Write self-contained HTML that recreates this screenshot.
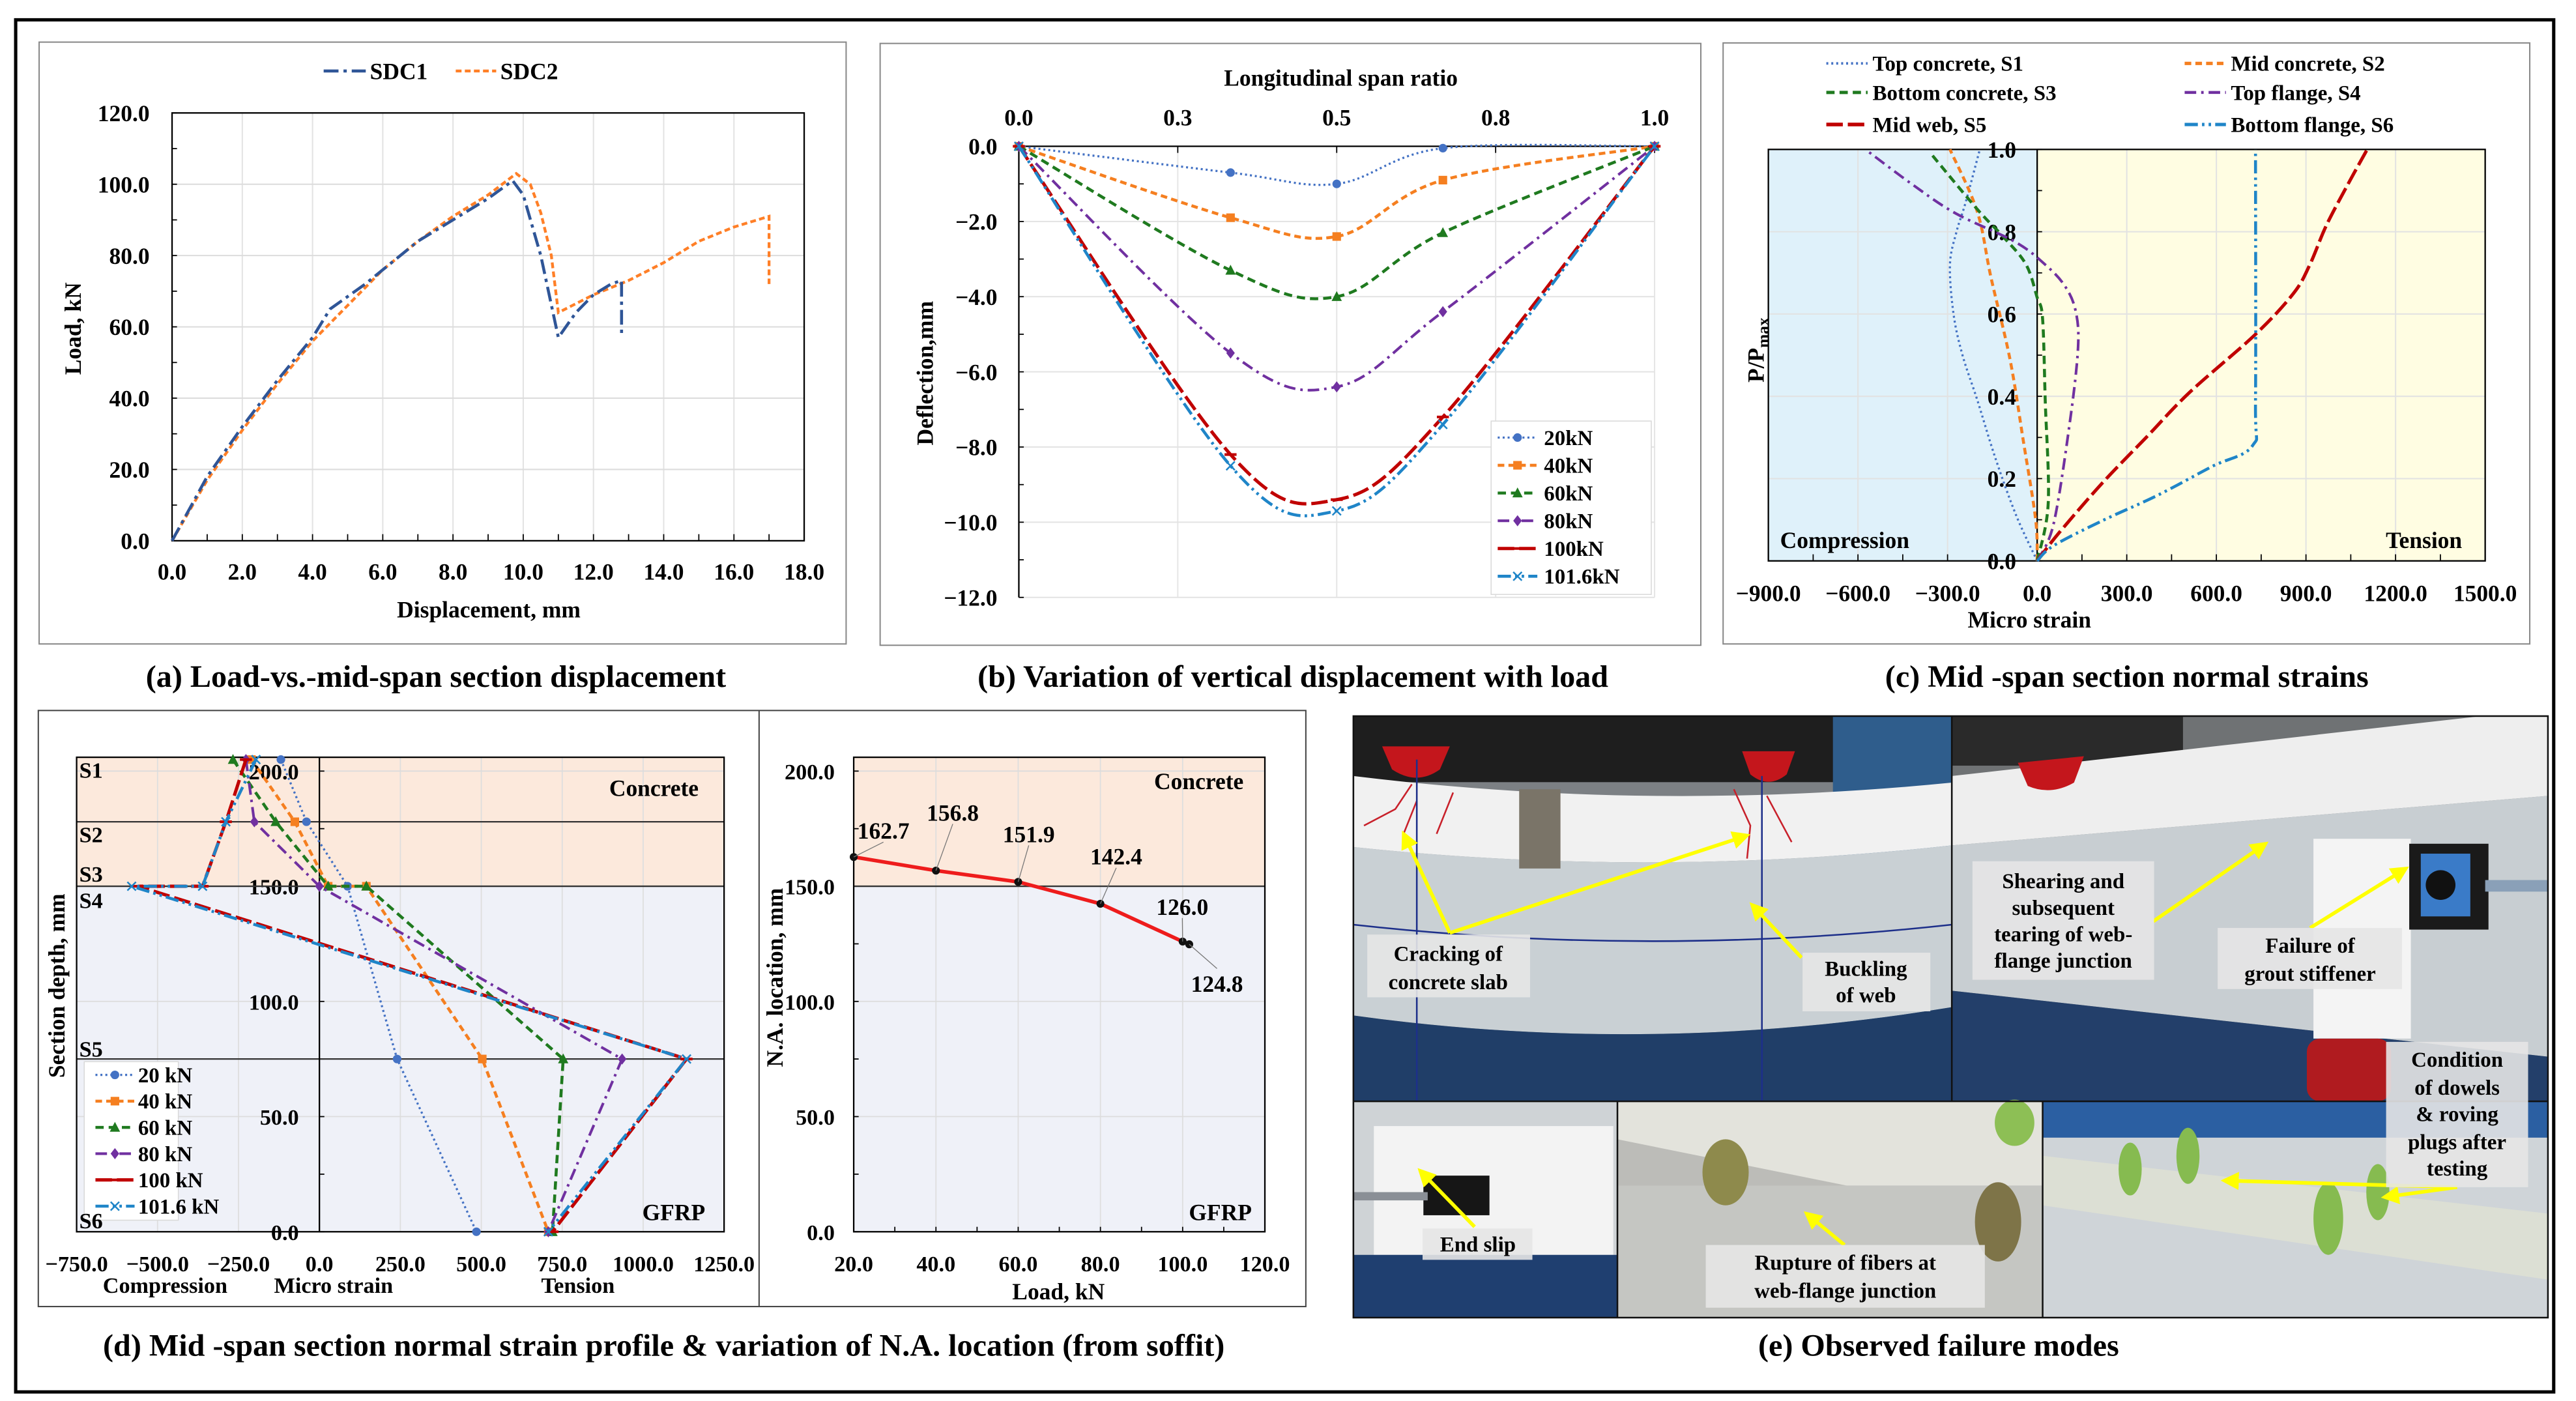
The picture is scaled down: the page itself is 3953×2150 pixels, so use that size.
<!DOCTYPE html>
<html><head><meta charset="utf-8">
<style>
html,body{margin:0;padding:0;background:#fff;}
svg{display:block;}
text{font-family:"Liberation Serif",serif;font-weight:bold;fill:#000;}
</style></head>
<body>
<svg id="fig" xmlns="http://www.w3.org/2000/svg" viewBox="0 0 1560 848.5" width="3953" height="2150" preserveAspectRatio="none">
<defs>
<marker id="arr" viewBox="0 0 10 10" refX="8" refY="5" markerWidth="5" markerHeight="5" orient="auto"><path d="M0,0 L10,5 L0,10 z" fill="#ffff00"/></marker>
</defs>
<rect x="0" y="0" width="1560" height="848.5" fill="#fff"/>
<rect x="9.5" y="12" width="1537" height="831" fill="none" stroke="#000" stroke-width="2"/>
<rect x="23.7" y="25.5" width="488.7" height="364.5" fill="#fff" stroke="#888" stroke-width="0.8"/>
<rect x="533" y="26.3" width="497" height="364.5" fill="#fff" stroke="#888" stroke-width="0.8"/>
<rect x="1043.5" y="26" width="488.5" height="364" fill="#fff" stroke="#888" stroke-width="0.8"/>
<rect x="23.2" y="430.3" width="767.6" height="361" fill="#fff" stroke="#444" stroke-width="0.8"/>
<line x1="459.7" y1="430.3" x2="459.7" y2="791.3" stroke="#444" stroke-width="0.8"/>
<g id="ga"></g>
<g id="gb"></g>
<g id="gc"></g>
<g id="gd"></g>
<g id="gd2"></g>
<g id="ge">
  <!-- top-left photo -->
  <rect x="819.6" y="433.7" width="362.4" height="233.3" fill="#7c8084"/>
  <rect x="819.6" y="433.7" width="362.4" height="40" fill="#1e1e1e"/>
  <rect x="1110" y="433.7" width="72" height="233" fill="#2f5d8c"/>
  <path d="M837,452 L878,452 L872,466 Q858,476 843,466 Z" fill="#c4161c"/>
  <path d="M1055,455 L1087,455 L1082,469 Q1071,478 1060,469 Z" fill="#c4161c"/>
  <path d="M819.6,470 Q1000,492 1182,474 L1182,512 Q1000,532 819.6,513 Z" fill="#f1f1f1"/>
  <path d="M819.6,513 Q1000,532 1182,512 L1182,610 Q1000,640 819.6,615 Z" fill="#c9d0d4"/>
  <path d="M819.6,615 Q1000,640 1182,610 L1182,667 L819.6,667 Z" fill="#203e68"/>
  <rect x="920" y="478" width="25" height="48" fill="#7a7468"/>
  <path d="M826,500 L845,490 L855,475 M850,505 L858,485 M880,480 L870,505 M1050,478 L1060,500 L1058,520 M1070,482 L1085,510" stroke="#c8202a" stroke-width="1" fill="none"/>
  <path d="M819.6,560 Q1000,580 1182,560 M858,460 L858,667 M1067,470 L1067,667" stroke="#1d2f8a" stroke-width="1" fill="none"/>
  <!-- top-right photo -->
  <rect x="1182" y="433.7" width="361" height="233.3" fill="#6f7274"/>
  <rect x="1182" y="433.7" width="140" height="30" fill="#2a2a2a"/>
  <polygon points="1182,470 1500,434 1543,434 1543,482 1182,512" fill="#eeeeee"/>
  <polygon points="1182,512 1543,482 1543,640 1182,600" fill="#c8ced2"/>
  <polygon points="1182,600 1543,640 1543,667 1182,667" fill="#233f6a"/>
  <path d="M1222,462 L1262,458 L1256,474 Q1242,482 1228,476 Z" fill="#c4161c"/>
  <rect x="1401" y="508" width="59" height="121" fill="#f4f4f4"/>
  <rect x="1459" y="511" width="48" height="52" fill="#1a1a1a"/>
  <rect x="1466" y="517" width="30" height="38" fill="#3a7bc8"/>
  <circle cx="1478" cy="536" r="9" fill="#111"/>
  <rect x="1505" y="533" width="38" height="7" fill="#8aa0b8"/>
  <rect x="1397" y="629" width="51" height="38" rx="8" fill="#b01b1f"/>
  <!-- bottom-left photo -->
  <rect x="819.6" y="667" width="159.9" height="131" fill="#cfd3d6"/>
  <rect x="832" y="682" width="145" height="78" fill="#f3f3f3"/>
  <rect x="819.6" y="760" width="159.9" height="38" fill="#1f3f70"/>
  <rect x="862" y="712" width="40" height="24" fill="#161616"/>
  <rect x="819.6" y="722" width="45" height="5" fill="#8a8f96"/>
  <!-- bottom-mid photo -->
  <rect x="979.5" y="667" width="257.5" height="131" fill="#bcbcb8"/>
  <polygon points="979.5,667 1237,667 1237,742 979.5,690" fill="#e3e3dc"/>
  <rect x="979.5" y="718" width="257.5" height="80" fill="#c5c6c2"/>
  <ellipse cx="1045" cy="710" rx="14" ry="20" fill="#8e8a4c"/>
  <ellipse cx="1210" cy="740" rx="14" ry="24" fill="#7e7448"/>
  <ellipse cx="1220" cy="680" rx="12" ry="14" fill="#8dbf55"/>
  <!-- bottom-right photo -->
  <rect x="1237" y="667" width="306" height="131" fill="#cfd4d8"/>
  <rect x="1237" y="667" width="306" height="22" fill="#2b5fa2"/>
  <polygon points="1237,700 1543,735 1543,775 1237,730" fill="#dcdfd4"/>
  <ellipse cx="1290" cy="708" rx="7" ry="16" fill="#86bb50"/>
  <ellipse cx="1325" cy="700" rx="7" ry="17" fill="#86bb50"/>
  <ellipse cx="1410" cy="738" rx="9" ry="22" fill="#86bb50"/>
  <ellipse cx="1440" cy="722" rx="7" ry="17" fill="#86bb50"/>
  <!-- dividers -->
  <path d="M1182,433.7 V667 M819.6,667 H1543 M979.5,667 V798 M1237,667 V798" stroke="#111" stroke-width="1" fill="none"/>
  <rect x="819.6" y="433.7" width="723.4" height="364.3" fill="none" stroke="#111" stroke-width="1"/>
  <!-- arrows -->
  <g stroke="#ffff00" stroke-width="2.2" fill="none">
    <line x1="878" y1="565" x2="850" y2="505" marker-end="url(#arr)"/>
    <line x1="878" y1="565" x2="1058" y2="506" marker-end="url(#arr)"/>
    <line x1="1091" y1="580" x2="1061" y2="548" marker-end="url(#arr)"/>
    <line x1="1304" y1="558" x2="1372" y2="511" marker-end="url(#arr)"/>
    <line x1="1399" y1="562" x2="1457" y2="526" marker-end="url(#arr)"/>
    <line x1="893" y1="743" x2="860" y2="709" marker-end="url(#arr)"/>
    <line x1="1117" y1="754" x2="1094" y2="735" marker-end="url(#arr)"/>
    <line x1="1488" y1="719" x2="1347" y2="715" marker-end="url(#arr)"/>
    <line x1="1488" y1="719" x2="1444" y2="725" marker-end="url(#arr)"/>
  </g>
  <!-- label boxes -->
  <rect x="828" y="566" width="98.6" height="38" fill="#e6e6e6" fill-opacity="0.9"/>
  <text x="877" y="582" font-size="13" text-anchor="middle">Cracking of</text>
  <text x="877" y="599" font-size="13" text-anchor="middle">concrete slab</text>
  <rect x="1091.6" y="577" width="77.4" height="35.5" fill="#e6e6e6" fill-opacity="0.9"/>
  <text x="1130" y="591" font-size="13" text-anchor="middle">Buckling</text>
  <text x="1130" y="607" font-size="13" text-anchor="middle">of web</text>
  <rect x="1194.5" y="521.6" width="110" height="71.8" fill="#e6e6e6" fill-opacity="0.9"/>
  <text x="1249.5" y="538" font-size="13" text-anchor="middle">Shearing and</text>
  <text x="1249.5" y="554" font-size="13" text-anchor="middle">subsequent</text>
  <text x="1249.5" y="570" font-size="13" text-anchor="middle">tearing of web-</text>
  <text x="1249.5" y="586" font-size="13" text-anchor="middle">flange junction</text>
  <rect x="1343" y="562" width="111.6" height="37" fill="#e6e6e6" fill-opacity="0.9"/>
  <text x="1399" y="577" font-size="13" text-anchor="middle">Failure of</text>
  <text x="1399" y="594" font-size="13" text-anchor="middle">grout stiffener</text>
  <rect x="1445" y="631" width="86" height="88" fill="#e6e6e6" fill-opacity="0.9"/>
  <text x="1488" y="646" font-size="13" text-anchor="middle">Condition</text>
  <text x="1488" y="663" font-size="13" text-anchor="middle">of dowels</text>
  <text x="1488" y="679" font-size="13" text-anchor="middle">&amp; roving</text>
  <text x="1488" y="696" font-size="13" text-anchor="middle">plugs after</text>
  <text x="1488" y="712" font-size="13" text-anchor="middle">testing</text>
  <rect x="861.5" y="744" width="66.5" height="19" fill="#e6e6e6" fill-opacity="0.9"/>
  <text x="895" y="758" font-size="13" text-anchor="middle">End slip</text>
  <rect x="1033" y="754" width="169" height="38" fill="#e6e6e6" fill-opacity="0.9"/>
  <text x="1117.5" y="769" font-size="13" text-anchor="middle">Rupture of fibers at</text>
  <text x="1117.5" y="786" font-size="13" text-anchor="middle">web-flange junction</text>
</g>
<text x="264" y="416" font-size="19" text-anchor="middle">(a) Load-vs.-mid-span section displacement</text>
<text x="783" y="416" font-size="19" text-anchor="middle">(b) Variation of vertical displacement with load</text>
<text x="1288" y="416" font-size="19" text-anchor="middle">(c) Mid -span section normal strains</text>
<text x="402" y="821" font-size="19" text-anchor="middle">(d) Mid -span section normal strain profile &amp; variation of N.A. location (from soffit)</text>
<text x="1174" y="821" font-size="19" text-anchor="middle">(e) Observed failure modes</text>
</svg>
<script>
// ---------- data ----------
const aDispSDC1=[0,1,2,3,4,4.5,5.5,6,7,8,9,9.7,10,10.5,11,11.5,12,12.5,12.8,12.8];
const aLoadSDC1=[0,18,32,45,57,65,72,76,84,90,96,101,97,80,57,64,69,72,73,58];
const aDispSDC2=[0,1,2,3,4,5,6,7,8,9,9.8,10.2,10.5,10.8,11,12,13,14,15,16,17,17];
const aLoadSDC2=[0,17,31,44,56,66,76,84,91,97,103,100,92,80,64,69,73,78,84,88,91,72];
const aXTicks=[0,2,4,6,8,10,12,14,16,18];
const aYTicks=[0,20,40,60,80,100,120];

const bRatio=[0,0.333,0.5,0.667,1];
const bLoads=['20kN','40kN','60kN','80kN','100kN','101.6kN'];
const bDefl20=[0,-0.7,-1.0,-0.05,0];
const bDefl40=[0,-1.9,-2.4,-0.9,0];
const bDefl60=[0,-3.3,-4.0,-2.3,0];
const bDefl80=[0,-5.5,-6.4,-4.4,0];
const bDefl100=[0,-8.2,-9.4,-7.2,0];
const bDefl1016=[0,-8.5,-9.7,-7.4,0];
const bXTicks=[0,0.25,0.5,0.75,1];
const bXTickLabels=['0.0','0.3','0.5','0.8','1.0'];
const bYTicks=[0,-2,-4,-6,-8,-10,-12];

const cS1Strain=[0,-70,-140,-200,-250,-280,-292,-270,-240,-192];
const cS1P=[0,0.11,0.25,0.39,0.5,0.6,0.72,0.8,0.87,1.0];
const cS2Strain=[0,-5,-46,-91,-155,-201,-292];
const cS2P=[0,0.1,0.29,0.49,0.69,0.85,1.0];
const cS3Strain=[0,37,27,18,0,-37,-110,-201,-356];
const cS3P=[0,0.14,0.39,0.59,0.64,0.72,0.785,0.855,0.99];
const cS4Strain=[0,55,110,137,128,91,27,-73,-274,-420,-575];
const cS4P=[0,0.09,0.34,0.52,0.61,0.67,0.72,0.775,0.845,0.916,1.0];
const cS5Strain=[0,73,219,365,511,730,858,913,968,1041,1105];
const cS5P=[0,0.068,0.19,0.3,0.41,0.55,0.65,0.72,0.815,0.916,1.0];
const cS6Strain=[0,55,219,402,584,721,731,731];
const cS6P=[0,0.037,0.098,0.159,0.229,0.28,0.39,1.0];
const cXTicks=[-900,-600,-300,0,300,600,900,1200,1500];
const cYTicks=[0,0.2,0.4,0.6,0.8,1.0];

const dDepth=[205,178,150,150,75,0];
const dStrain20=[-119,-40,87,87,240,485];
const dStrain40=[-210,-76,27,145,503,707];
const dStrain60=[-267,-135,27,145,753,720];
const dStrain80=[-227,-201,0,0,935,707];
const dStrain100=[-227,-289,-361,-560,1134,720];
const dStrain1016=[-196,-289,-361,-580,1134,707];
const dLoadNames=['20 kN','40 kN','60 kN','80 kN','100 kN','101.6 kN'];
const dXTicks=[-750,-500,-250,0,250,500,750,1000,1250];
const dYTicks=[0,50,100,150,200];
const naLoad=[20,40,60,80,100,101.6];
const naLoc=[162.7,156.8,151.9,142.4,126.0,124.8];
const naXTicks=[20,40,60,80,100,120];

// ---------- helpers ----------
const NS='http://www.w3.org/2000/svg';
function mk(tag,attrs,name,parent){
  const e=document.createElementNS(NS,tag);
  for(const k in attrs) e.setAttribute(k,attrs[k]);
  
  
  parent.appendChild(e);
  return e;
}
function txt(parent,x,y,s,size,name,anchor,extra){
  const a={x:x,y:y,'font-size':size,'text-anchor':anchor||'middle'};
  if(extra) for(const k in extra) a[k]=extra[k];
  const e=mk('text',a,name,parent);
  e.textContent=s;
  return e;
}
function lin(d0,d1,r0,r1){return v=>r0+(v-d0)/(d1-d0)*(r1-r0);}
function fmt(v,n){const s=v.toFixed(n);return v<0?'\u2212'+s.slice(1):s;}
function polyD(xs,ys){return xs.map((x,i)=>(i?'L':'M')+x.toFixed(2)+','+ys[i].toFixed(2)).join('');}
function smoothD(xs,ys){
  let d='M'+xs[0]+','+ys[0];
  const n=xs.length;
  for(let i=0;i<n-1;i++){
    const x0=xs[Math.max(i-1,0)],y0=ys[Math.max(i-1,0)];
    const x1=xs[i],y1=ys[i],x2=xs[i+1],y2=ys[i+1];
    const x3=xs[Math.min(i+2,n-1)],y3=ys[Math.min(i+2,n-1)];
    d+='C'+(x1+(x2-x0)/6).toFixed(2)+','+(y1+(y2-y0)/6).toFixed(2)+' '+(x2-(x3-x1)/6).toFixed(2)+','+(y2-(y3-y1)/6).toFixed(2)+' '+x2.toFixed(2)+','+y2.toFixed(2);
  }
  return d;
}
function marker(parent,type,x,y,color,name,s){
  s=s||2.6;
  if(type==='circle') mk('circle',{cx:x,cy:y,r:s,fill:color},name,parent);
  else if(type==='square') mk('rect',{x:x-s,y:y-s,width:2*s,height:2*s,fill:color},name,parent);
  else if(type==='triangle') mk('polygon',{points:`${x},${y-s*1.3} ${x-s*1.2},${y+s} ${x+s*1.2},${y+s}`,fill:color},name,parent);
  else if(type==='diamond') mk('polygon',{points:`${x},${y-s*1.3} ${x-s},${y} ${x},${y+s*1.3} ${x+s},${y}`,fill:color},name,parent);
  else if(type==='dash') mk('line',{x1:x-s*1.4,y1:y,x2:x+s*1.4,y2:y,stroke:color,'stroke-width':1.6},name,parent);
  else if(type==='x') mk('path',{d:`M${x-s},${y-s}L${x+s},${y+s}M${x-s},${y+s}L${x+s},${y-s}`,stroke:color,'stroke-width':1},name,parent);
}
const C={blue:'#4472c4',orange:'#f57f20',green:'#1f7a1f',purple:'#7030a0',red:'#c00000',lblue:'#1f85c8'};
const dStyles=[
 {c:C.blue,dash:'1.2 1.8',m:'circle',w:1.3},
 {c:C.orange,dash:'4 2.5',m:'square',w:1.8},
 {c:C.green,dash:'5 3',m:'triangle',w:1.8},
 {c:C.purple,dash:'7 3 1.5 3',m:'diamond',w:1.6},
 {c:C.red,dash:'10 3',m:'dash',w:2},
 {c:C.lblue,dash:'8 2.5 1.5 2.5 1.5 2.5',m:'x',w:1.8}
];

// ---------- chart a ----------
(function(){
  const g=document.getElementById('ga');
  const X=lin(0,18,104.2,487), Y=lin(0,120,327.5,68.4);
  aXTicks.forEach(v=>{
    mk('line',{x1:X(v),y1:Y(0),x2:X(v),y2:Y(120),stroke:'#e3e3e3','stroke-width':0.8},'a-x-grid',g);
    txt(g,X(v),351,fmt(v,1),14,'a-x-tick-label');
  });
  aYTicks.forEach(v=>{
    mk('line',{x1:X(0),y1:Y(v),x2:X(18),y2:Y(v),stroke:'#dcdcdc','stroke-width':0.8},'a-y-grid',g);
    txt(g,90.6,Y(v)+5,fmt(v,1),14,'a-y-tick-label','end');
  });
  for(let v=0;v<=18;v+=1) mk('line',{x1:X(v),y1:Y(0),x2:X(v),y2:Y(0)-4,stroke:'#000','stroke-width':0.7},'a-x-tick',g);
  for(let v=0;v<=120;v+=10) mk('line',{x1:X(0),y1:Y(v),x2:X(0)+3,y2:Y(v),stroke:'#000','stroke-width':0.7},'a-y-tick',g);
  mk('rect',{x:X(0),y:Y(120),width:X(18)-X(0),height:Y(0)-Y(120),fill:'none',stroke:'#000','stroke-width':0.9},'a-plot-frame',g);
  mk('path',{d:polyD(aDispSDC2.map(X),aLoadSDC2.map(Y)),fill:'none',stroke:'#ff7f27','stroke-width':1.7,'stroke-dasharray':'3.5 2'},'series-sdc2',g);
  mk('path',{d:polyD(aDispSDC1.map(X),aLoadSDC1.map(Y)),fill:'none',stroke:'#2f5597','stroke-width':1.8,'stroke-dasharray':'9 3 2 3'},'series-sdc1',g);
  mk('line',{x1:196,y1:43,x2:221.5,y2:43,stroke:'#2f5597','stroke-width':1.8,'stroke-dasharray':'9 3 2 3'},'legend-line-sdc1',g);
  txt(g,224,48,'SDC1',14,'legend-label-sdc1','start');
  mk('line',{x1:276,y1:43,x2:300.5,y2:43,stroke:'#ff7f27','stroke-width':1.7,'stroke-dasharray':'3.5 2'},'legend-line-sdc2',g);
  txt(g,303,48,'SDC2',14,'legend-label-sdc2','start');
  txt(g,296,374,'Displacement, mm',14,'a-x-axis-title');
  txt(g,49,199,'Load, kN',14,'a-y-axis-title','middle',{transform:'rotate(-90 49 199)'});
})();

// ---------- chart b ----------
(function(){
  const g=document.getElementById('gb');
  const X=lin(0,1,617,1002), Y=lin(0,-12,88.6,361.8);
  bXTicks.forEach((v,i)=>{
    mk('line',{x1:X(v),y1:Y(0),x2:X(v),y2:Y(-12),stroke:'#e6e6e6','stroke-width':0.8},'b-x-grid',g);
    mk('line',{x1:X(v),y1:Y(0),x2:X(v),y2:Y(0)+4,stroke:'#000','stroke-width':0.7},'b-x-tick',g);
    txt(g,X(v),76,bXTickLabels[i],14,'b-x-tick-label');
  });
  bYTicks.forEach(v=>{
    mk('line',{x1:X(0),y1:Y(v),x2:X(1),y2:Y(v),stroke:'#e3e3e3','stroke-width':0.8},'b-y-grid',g);
    txt(g,604,Y(v)+5,fmt(v,1),14,'b-y-tick-label','end');
  });
  for(let v=0;v>=-12;v-=1) mk('line',{x1:X(0),y1:Y(v),x2:X(0)+3,y2:Y(v),stroke:'#000','stroke-width':0.7},'b-y-tick',g);
  mk('line',{x1:X(0),y1:Y(0),x2:X(1),y2:Y(0),stroke:'#000','stroke-width':0.9},'b-top-axis',g);
  mk('line',{x1:X(0),y1:Y(0),x2:X(0),y2:Y(-12),stroke:'#000','stroke-width':0.9},'b-left-axis',g);
  const series=[bDefl20,bDefl40,bDefl60,bDefl80,bDefl100,bDefl1016];
  series.forEach((s,i)=>{
    const st=dStyles[i];
    mk('path',{d:smoothD(bRatio.map(X),s.map(Y)),fill:'none',stroke:st.c,'stroke-width':st.w,'stroke-dasharray':st.dash},'b-series-'+bLoads[i],g);
    s.forEach((v,j)=>marker(g,st.m,X(bRatio[j]),Y(v),st.c,'b-point'));
  });
  mk('rect',{x:903,y:255,width:97,height:105,fill:'#fff',stroke:'#d9d9d9','stroke-width':0.6},'b-legend-box',g);
  bLoads.forEach((n,i)=>{
    const st=dStyles[i], y=265+i*16.8;
    mk('line',{x1:907,y1:y,x2:931,y2:y,stroke:st.c,'stroke-width':st.w,'stroke-dasharray':st.dash},'b-legend-line',g);
    marker(g,st.m,919,y,st.c,'b-legend-marker');
    txt(g,935,y+4.5,n,13,'b-legend-label','start');
  });
  txt(g,812,52,'Longitudinal span ratio',14,'b-top-axis-title');
  txt(g,565,226,'Deflection,mm',14,'b-y-axis-title','middle',{transform:'rotate(-90 565 226)'});
})();

// ---------- chart c ----------
(function(){
  const g=document.getElementById('gc');
  const X=lin(-900,1500,1070.9,1505), Y=lin(0,1,339.7,90.5);
  mk('rect',{x:X(-900),y:Y(1),width:X(0)-X(-900),height:Y(0)-Y(1),fill:'#dff1fa'},'c-compression-shade',g);
  mk('rect',{x:X(0),y:Y(1),width:X(1500)-X(0),height:Y(0)-Y(1),fill:'#fffde2'},'c-tension-shade',g);
  cXTicks.forEach(v=>{
    mk('line',{x1:X(v),y1:Y(0),x2:X(v),y2:Y(1),stroke:'#e2e2e2','stroke-width':0.8},'c-x-grid',g);
    txt(g,X(v),364,fmt(v,1),14,'c-x-tick-label');
  });
  for(let v=-900;v<=1500;v+=150) mk('line',{x1:X(v),y1:Y(0),x2:X(v),y2:Y(0)-4,stroke:'#000','stroke-width':0.7},'c-x-tick',g);
  cYTicks.forEach(v=>{
    mk('line',{x1:X(-900),y1:Y(v),x2:X(1500),y2:Y(v),stroke:'#e2e2e2','stroke-width':0.8},'c-y-grid',g);
    txt(g,1221,Y(v)+5,v.toFixed(1),14,'c-y-tick-label','end');
  });
  for(let v=0;v<=1.001;v+=0.1) mk('line',{x1:X(0),y1:Y(v),x2:X(0)+3,y2:Y(v),stroke:'#000','stroke-width':0.7},'c-y-tick',g);
  mk('rect',{x:X(-900),y:Y(1),width:X(1500)-X(-900),height:Y(0)-Y(1),fill:'none',stroke:'#000','stroke-width':0.9},'c-plot-frame',g);
  mk('line',{x1:X(0),y1:Y(0),x2:X(0),y2:Y(1),stroke:'#000','stroke-width':0.9},'c-zero-axis',g);
  const S=[[cS1Strain,cS1P,C.blue,'1.2 1.8',1.3,'Top concrete, S1'],
           [cS2Strain,cS2P,C.orange,'4 2.5',1.8,'Mid concrete, S2'],
           [cS3Strain,cS3P,C.green,'5 3',1.8,'Bottom concrete, S3'],
           [cS4Strain,cS4P,C.purple,'7 3 1.5 3',1.6,'Top flange, S4'],
           [cS5Strain,cS5P,C.red,'10 3',2,'Mid web, S5'],
           [cS6Strain,cS6P,C.lblue,'8 2.5 1.5 2.5 1.5 2.5',1.8,'Bottom flange, S6']];
  S.forEach((s,i)=>{
    mk('path',{d:smoothD(s[0].map(X),s[1].map(Y)),fill:'none',stroke:s[2],'stroke-width':s[4],'stroke-dasharray':s[3]},'c-series-s'+(i+1),g);
    const col=i%2, row=Math.floor(i/2);
    const lx=col?1323:1106, ly=[38.4,56,75.4][row];
    mk('line',{x1:lx,y1:ly,x2:lx+25,y2:ly,stroke:s[2],'stroke-width':s[4]+0.2,'stroke-dasharray':s[3]},'c-legend-line',g);
    txt(g,lx+28,ly+4.5,s[5],13,'c-legend-label','start');
  });
  txt(g,1078,332,'Compression',14,'c-compression-label','start');
  txt(g,1491,332,'Tension',14,'c-tension-label','end');
  txt(g,1229,380,'Micro strain',14,'c-x-axis-title');
  const yt=txt(g,1063,215,'P/P',14,'c-y-axis-title','middle',{transform:'rotate(-90 1063 202)'});
  const sub=document.createElementNS(NS,'tspan');
  
  
  sub.setAttribute('font-size','10');
  sub.setAttribute('dy','3');
  sub.textContent='max';
  yt.appendChild(sub);
  yt.setAttribute('x','1053');
  yt.setAttribute('y','207');
})();

// ---------- chart d left ----------
(function(){
  const g=document.getElementById('gd');
  const X=lin(-750,1250,46.4,438.5), Y=lin(0,200,746,467);
  const top=206;
  mk('rect',{x:X(-750),y:Y(top),width:X(1250)-X(-750),height:Y(150)-Y(top),fill:'#fce9dc'},'d-concrete-shade',g);
  mk('rect',{x:X(-750),y:Y(150),width:X(1250)-X(-750),height:Y(0)-Y(150),fill:'#eff1f8'},'d-gfrp-shade',g);
  dXTicks.forEach(v=>{
    mk('line',{x1:X(v),y1:Y(0),x2:X(v),y2:Y(top),stroke:'#dedede','stroke-width':0.7},'d-x-grid',g);
    txt(g,X(v),770,fmt(v,1),13.5,'d-x-tick-label');
  });
  dYTicks.forEach(v=>{
    mk('line',{x1:X(-750),y1:Y(v),x2:X(1250),y2:Y(v),stroke:'#dcdcdc','stroke-width':0.7},'d-y-grid',g);
    txt(g,181,Y(v)+5,v.toFixed(1),13.5,'d-y-tick-label','end');
  });
  for(let v=0;v<=200;v+=25) mk('line',{x1:X(0),y1:Y(v),x2:X(0)+3,y2:Y(v),stroke:'#000','stroke-width':0.7},'d-y-tick',g);
  [178,150,75].forEach(v=>mk('line',{x1:X(-750),y1:Y(v),x2:X(1250),y2:Y(v),stroke:'#333','stroke-width':0.9},'d-section-line',g));
  mk('rect',{x:X(-750),y:Y(top),width:X(1250)-X(-750),height:Y(0)-Y(top),fill:'none',stroke:'#000','stroke-width':0.9},'d-plot-frame',g);
  mk('line',{x1:X(0),y1:Y(0),x2:X(0),y2:Y(top),stroke:'#000','stroke-width':0.9},'d-zero-axis',g);
  [dStrain20,dStrain40,dStrain60,dStrain80,dStrain100,dStrain1016].forEach((s,i)=>{
    const st=dStyles[i];
    mk('path',{d:polyD(s.map(X),dDepth.map(Y)),fill:'none',stroke:st.c,'stroke-width':st.w,'stroke-dasharray':st.dash},'d-series-'+dLoadNames[i],g);
    s.forEach((v,j)=>marker(g,st.m,X(v),Y(dDepth[j]),st.c,'d-point'));
  });
  mk('rect',{x:51,y:643,width:57,height:96,fill:'#fff',stroke:'#d9d9d9','stroke-width':0.6},'d-legend-box',g);
  dLoadNames.forEach((n,i)=>{
    const st=dStyles[i], y=651+i*15.9;
    mk('line',{x1:57.8,y1:y,x2:81.5,y2:y,stroke:st.c,'stroke-width':st.w,'stroke-dasharray':st.dash},'d-legend-line',g);
    marker(g,st.m,69.6,y,st.c,'d-legend-marker');
    txt(g,83.6,y+4.5,n,13,'d-legend-label','start');
  });
  [['S1',471],['S2',510],['S3',534],['S4',550],['S5',640],['S6',744]].forEach(s=>txt(g,48,s[1],s[0],13.5,'d-section-label-'+s[0],'start'));
  txt(g,396,482,'Concrete',14,'d-concrete-label');
  txt(g,408,739,'GFRP',14,'d-gfrp-label');
  txt(g,100,783,'Compression',13.5,'d-compression-label');
  txt(g,202,783,'Micro strain',13.5,'d-x-axis-title');
  txt(g,350,783,'Tension',13.5,'d-tension-label');
  txt(g,39,597,'Section depth, mm',14,'d-y-axis-title','middle',{transform:'rotate(-90 39 597)'});
})();

// ---------- chart d right ----------
(function(){
  const g=document.getElementById('gd2');
  const X=lin(20,120,517,766), Y=lin(0,200,746,467);
  const top=206;
  mk('rect',{x:X(20),y:Y(top),width:X(120)-X(20),height:Y(150)-Y(top),fill:'#fce9dc'},'na-concrete-shade',g);
  mk('rect',{x:X(20),y:Y(150),width:X(120)-X(20),height:Y(0)-Y(150),fill:'#eff1f8'},'na-gfrp-shade',g);
  naXTicks.forEach(v=>{
    mk('line',{x1:X(v),y1:Y(0),x2:X(v),y2:Y(top),stroke:'#dedede','stroke-width':0.7},'na-x-grid',g);
    txt(g,X(v),770,v.toFixed(1),13.5,'na-x-tick-label');
  });
  for(let v=20;v<=120;v+=10) mk('line',{x1:X(v),y1:Y(0),x2:X(v),y2:Y(0)-3,stroke:'#000','stroke-width':0.7},'na-x-tick',g);
  dYTicks.forEach(v=>{
    mk('line',{x1:X(20),y1:Y(v),x2:X(120),y2:Y(v),stroke:'#dcdcdc','stroke-width':0.7},'na-y-grid',g);
    txt(g,505.5,Y(v)+5,v.toFixed(1),13.5,'na-y-tick-label','end');
  });
  for(let v=0;v<=200;v+=25) mk('line',{x1:X(20),y1:Y(v),x2:X(20)+3,y2:Y(v),stroke:'#000','stroke-width':0.7},'na-y-tick',g);
  mk('line',{x1:X(20),y1:Y(150),x2:X(120),y2:Y(150),stroke:'#333','stroke-width':0.9},'na-interface-line',g);
  mk('rect',{x:X(20),y:Y(top),width:X(120)-X(20),height:Y(0)-Y(top),fill:'none',stroke:'#000','stroke-width':0.9},'na-plot-frame',g);
  mk('path',{d:polyD(naLoad.map(X),naLoc.map(Y)),fill:'none',stroke:'#ee1c1c','stroke-width':2.2},'na-series',g);
  const lab=[[535,508],[577,497],[623,510],[676,523.6],[716,554],[737,598.6]];
  naLoad.forEach((v,i)=>{
    mk('circle',{cx:X(v),cy:Y(naLoc[i]),r:2.4,fill:'#111'},'na-point',g);
    mk('line',{x1:X(v),y1:Y(naLoc[i]),x2:lab[i][0],y2:lab[i][1]+(i===5?-12:2),stroke:'#777','stroke-width':0.5},'na-leader',g);
    txt(g,lab[i][0],lab[i][1]+(i===5?2:0),naLoc[i].toFixed(1),14,'na-value-label');
  });
  txt(g,726,478,'Concrete',14,'na-concrete-label');
  txt(g,739,739,'GFRP',14,'na-gfrp-label');
  txt(g,641,787,'Load, kN',14,'na-x-axis-title');
  txt(g,474,592,'N.A. location, mm',14,'na-y-axis-title','middle',{transform:'rotate(-90 474 592)'});
})();
</script>
</body></html>
